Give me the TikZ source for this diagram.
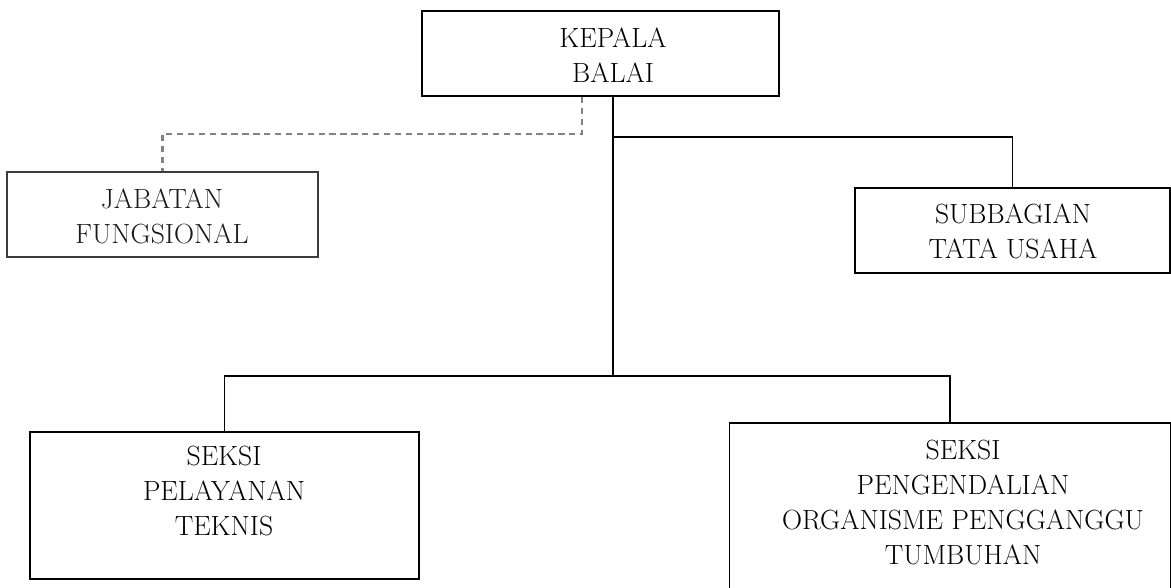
\documentclass[tikz,border=0pt]{standalone}
\usepackage{tikz}
\tikzstyle{chart} = [x = 0.02cm, y = -0.02cm]
\definecolor{linkGray}{RGB}{130,130,130}
\definecolor{staffGray}{RGB}{60,60,60}
\tikzstyle{unitBoxStyle} = [draw, line width = 1.1pt, inner sep = 0pt]
\tikzstyle{unitText} = [align = center, inner sep = 0pt, font = \fontsize{15.8}{19.9}\selectfont]
\tikzstyle{orgLine} = [line width = 1.1pt]
\tikzstyle{staffLink} = [color = linkGray, line width = 1.4pt, dash pattern = on 3.6pt off 2.6pt]
\newcommand{\orgUnit}[6]{\node [unitBoxStyle, #6, minimum width = #4 * 0.02cm, minimum height = #5 * 0.02cm] (#1) at (#2, #3) {};}
\newcommand{\orgLabel}[5]{\node [unitText, #5] (#1) at (#2, #3) {#4};}
\begin{document}
\begin{tikzpicture}[chart]
  \clip (0, 0) rectangle (1171, 588);
  \orgUnit{kepala}{600.5}{53.5}{357}{85}{}
  \orgUnit{jabatan}{162.5}{214.5}{311}{85}{staffGray}
  \orgUnit{subbag}{1012.5}{230.5}{315}{85}{}
  \orgUnit{seksiPT}{224.5}{505.5}{389}{147}{}
  \orgUnit{seksiPOPT}{950}{523}{441}{200}{}
  \orgLabel{kepalaText}{613}{55}{KEPALA\\BALAI}{}
  \orgLabel{jabatanText}{162}{216}{JABATAN\\FUNGSIONAL}{black!90}
  \orgLabel{subbagText}{1013}{231.5}{SUBBAGIAN\\TATA USAHA}{}
  \orgLabel{seksiPTText}{224}{491}{SEKSI\\PELAYANAN\\TEKNIS}{}
  \orgLabel{seksiPOPTText}{963}{502.5}{SEKSI\\PENGENDALIAN\\ORGANISME PENGGANGGU\\TUMBUHAN}{}
  \coordinate (spine) at (613, 376);
  \coordinate (subJoint) at (613, 137);
  \coordinate (staffJoint) at (582, 134);
  \draw [orgLine] (kepala.south -| spine) -- (spine);
  \draw [orgLine] (subJoint) -| (subbag.north);
  \draw [orgLine] (seksiPT.north) |- (spine) -| (seksiPOPT.north);
  \draw [staffLink] (kepala.south -| staffJoint) -- (staffJoint) -| (jabatan.north);
\end{tikzpicture}
\end{document}
